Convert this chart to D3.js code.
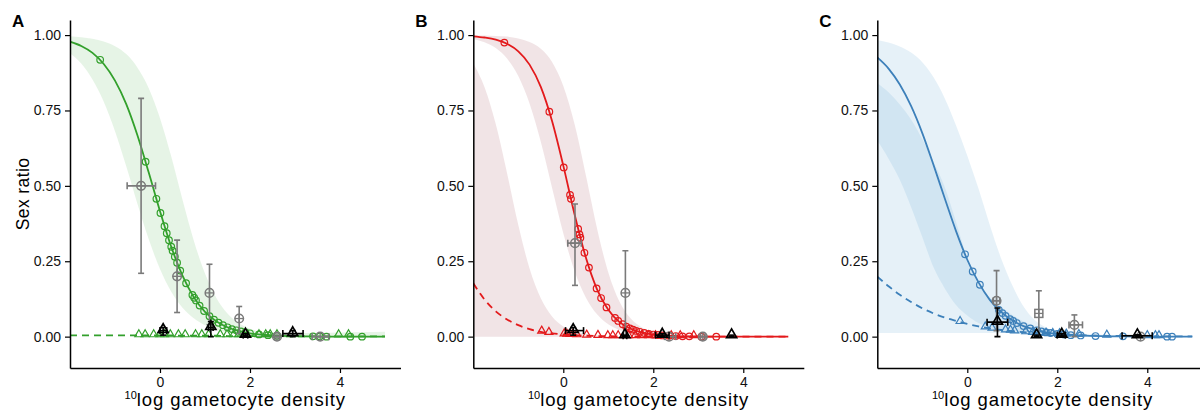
<!DOCTYPE html>
<html>
<head>
<meta charset="utf-8">
<script src="https://cdn.jsdelivr.net/npm/d3@7"></script>
<style>
  body { margin: 0; background: #fff; }
  svg text { font-family: "Liberation Sans", Arial, sans-serif; }
</style>
</head>
<body>
<svg id="chart" width="1200" height="412"></svg>
<script>
const xGrid = [-2, -1.75, -1.5, -1.25, -1, -0.75, -0.5, -0.25, 0, 0.25, 0.5, 0.75, 1, 1.25, 1.5, 1.75, 2, 2.5, 3, 3.5, 4, 4.5, 5];
const xTicks = [0, 2, 4];
const yTicks = [0, 0.25, 0.5, 0.75, 1];

// ---- panel A
const aFit   = [0.978, 0.964, 0.941, 0.904, 0.849, 0.771, 0.667, 0.544, 0.416, 0.298, 0.202, 0.131, 0.082, 0.051, 0.031, 0.019, 0.011, 0.004, 0.0014, 0.0005, 0.0002, 0.0001, 0];
const aFitLo = [0.940, 0.906, 0.853, 0.779, 0.681, 0.565, 0.440, 0.323, 0.224, 0.149, 0.096, 0.061, 0.038, 0.023, 0.014, 0.006, 0.002, -0.003, -0.004, -0.004, -0.004, -0.004, -0.004];
const aFitHi = [0.996, 0.993, 0.988, 0.979, 0.963, 0.937, 0.892, 0.824, 0.724, 0.597, 0.454, 0.319, 0.209, 0.129, 0.077, 0.045, 0.026, 0.012, 0.012, 0.013, 0.014, 0.015, 0.016];
const aNull  = [0.004, 0.004, 0.004, 0.004, 0.004, 0.004, 0.004, 0.004, 0.004, 0.004, 0.003, 0.003, 0.003, 0.003, 0.002, 0.002, 0.002, 0.002, 0.001, 0.001, 0.001, 0.001, 0.001];
const aCircles = [[-1.33, 0.918], [-0.32, 0.58], [-0.08, 0.457], [0.01, 0.41], [0.1, 0.366], [0.15, 0.343], [0.2, 0.32], [0.25, 0.298], [0.28, 0.285], [0.33, 0.265], [0.38, 0.245], [0.45, 0.219], [0.58, 0.177], [0.72, 0.138], [0.76, 0.129], [0.8, 0.12], [0.88, 0.103], [0.98, 0.085], [1.1, 0.068], [1.2, 0.056], [1.3, 0.046], [1.4, 0.038], [1.5, 0.031], [1.6, 0.025], [1.7, 0.021], [1.8, 0.017], [1.9, 0.014], [2.0, 0.011], [2.2, 0.0075], [2.4, 0.005], [2.6, 0.003], [3.4, 0.001], [3.55, 0.001], [3.7, 0], [4.23, 0], [4.49, 0]];
const aTriangles = [[-0.47, 0.004], [-0.33, 0.004], [-0.14, 0.004], [0.0, 0.004], [0.1, 0.004], [0.23, 0.004], [0.41, 0.004], [0.56, 0.004], [0.79, 0.004], [0.93, 0.004], [1.08, 0.004], [1.34, 0.004], [1.49, 0.004], [1.64, 0.004], [1.75, 0.004], [2.2, 0.004], [2.35, 0.004], [2.45, 0.004], [2.6, 0.004], [3.97, 0.004], [4.19, 0.004]];
// [x, y, xlo, xhi, ylo, yhi, shape]
const aGrey = [[-0.42, 0.5, -0.73, -0.1, 0.21, 0.79, 'c'], [0.38, 0.2, 0.38, 0.38, 0.08, 0.32, 'c'], [1.1, 0.145, 1.1, 1.1, 0.04, 0.24, 'c'], [1.76, 0.06, 1.76, 1.76, 0.01, 0.10, 'c'], [2.6, 0, 2.55, 2.65, 0, 0, 'c'], [3.56, 0, 3.38, 3.75, 0, 0, 'c']];
const aBlack = [[0.07, 0.02, 0.0, 0.15, 0.005, 0.03], [1.13, 0.03, 1.08, 1.18, 0, 0.05], [1.9, 0.005, 1.85, 1.95, 0, 0.01], [2.95, 0.01, 2.73, 3.18, 0, 0.02]];

// ---- panel B
const bFit   = [0.996, 0.992, 0.985, 0.971, 0.946, 0.902, 0.828, 0.715, 0.567, 0.406, 0.263, 0.157, 0.089, 0.048, 0.026, 0.014, 0.007, 0.002, 0.0005, 0, 0, 0, 0];
const bFitLo = [0.987, 0.976, 0.957, 0.922, 0.864, 0.773, 0.646, 0.494, 0.343, 0.218, 0.130, 0.074, 0.041, 0.022, 0.012, 0.0065, 0.003, 0.001, 0, 0, 0, 0, 0];
const bFitHi = [0.999, 0.999, 0.997, 0.995, 0.989, 0.977, 0.955, 0.911, 0.831, 0.705, 0.536, 0.359, 0.213, 0.116, 0.060, 0.030, 0.015, 0.0035, 0.001, 0, 0, 0, 0];
const bNull   = [0.177, 0.123, 0.084, 0.057, 0.038, 0.025, 0.016, 0.011, 0.007, 0.0047, 0.003, 0.002, 0.0013, 0.001, 0.001, 0.001, 0.001, 0.0005, 0, 0, 0, 0, 0];
const bNullLo = [0, 0, 0, 0, 0, 0, 0, 0, 0, 0, 0, 0, 0, 0, 0, 0, 0, 0, 0, 0, 0, 0, 0];
const bNullHi = [0.906, 0.827, 0.704, 0.542, 0.370, 0.226, 0.127, 0.067, 0.034, 0.017, 0.0088, 0.0044, 0.002, 0.001, 0.001, 0.001, 0.001, 0.001, 0.001, 0.001, 0.001, 0.001, 0.001];
const bCircles = [[-1.31, 0.975], [-0.31, 0.746], [0.01, 0.561], [0.15, 0.47], [0.17, 0.457], [0.33, 0.357], [0.36, 0.339], [0.38, 0.328], [0.47, 0.278], [0.57, 0.229], [0.74, 0.16], [0.84, 0.128], [0.96, 0.097], [1.15, 0.062], [1.22, 0.052], [1.32, 0.041], [1.4, 0.033], [1.48, 0.027], [1.55, 0.023], [1.62, 0.019], [1.7, 0.016], [1.8, 0.012], [1.9, 0.009], [2.0, 0.007], [2.1, 0.0055], [2.2, 0.004], [2.35, 0.003], [2.5, 0.002], [2.65, 0.001], [2.8, 0.001], [3.07, 0], [3.4, 0]];
const bTriangles = [[-0.48, 0.016], [-0.32, 0.012], [0.02, 0.007], [0.08, 0.006], [0.15, 0.005], [0.21, 0.005], [0.3, 0.004], [0.52, 0.003], [0.77, 0.002], [0.99, 0.001], [1.1, 0.001], [1.22, 0.001], [1.45, 0.001], [1.6, 0.001], [1.75, 0.001], [1.9, 0.001], [2.05, 0.001], [2.4, 0.001], [2.6, 0.001], [2.9, 0.001]];
const bGrey = [[0.26, 0.31, 0.1, 0.4, 0.17, 0.44, 'c'], [1.38, 0.145, 1.38, 1.38, 0, 0.285, 'c'], [2.35, 0, 2.25, 2.5, 0, 0, 'c'], [3.1, 0, 3.05, 3.15, 0, 0, 'c']];
const bBlack = [[0.22, 0.02, 0.05, 0.45, 0.005, 0.03], [1.37, 0.003, 1.33, 1.41, 0, 0.005], [2.2, 0.005, 2.05, 2.35, 0, 0.01], [3.74, 0.003, 3.74, 3.74, 0, 0.005]];

// ---- panel C
const cFit   = [0.926, 0.889, 0.836, 0.765, 0.675, 0.569, 0.458, 0.350, 0.255, 0.180, 0.122, 0.082, 0.054, 0.035, 0.023, 0.014, 0.009, 0.004, 0.0015, 0.0006, 0.0002, 0.0001, 0];
const cFitLo = [0.65, 0.59, 0.52, 0.43, 0.33, 0.23, 0.16, 0.105, 0.07, 0.045, 0.028, 0.018, 0.012, 0.008, 0.005, 0.003, 0.002, 0.001, 0.001, 0.001, 0, 0, 0];
const cFitHi = [0.984, 0.975, 0.962, 0.942, 0.91, 0.86, 0.79, 0.70, 0.60, 0.49, 0.37, 0.26, 0.17, 0.10, 0.055, 0.03, 0.016, 0.006, 0.002, 0.001, 0.001, 0.001, 0.001];
const cNull   = [0.199, 0.167, 0.139, 0.115, 0.094, 0.077, 0.063, 0.052, 0.042, 0.034, 0.027, 0.022, 0.018, 0.0145, 0.0117, 0.0094, 0.0076, 0.005, 0.0032, 0.0021, 0.0013, 0.0009, 0.0006];
const cNullLo = [0.012, 0.012, 0.012, 0.012, 0.012, 0.012, 0.012, 0.012, 0.012, 0.012, 0.012, 0.012, 0.012, 0.010, 0.008, 0.006, 0.004, 0.002, 0.001, 0.001, 0.0005, 0.0003, 0.0002];
const cNullHi = [0.84, 0.81, 0.77, 0.72, 0.655, 0.58, 0.495, 0.38, 0.26, 0.18, 0.13, 0.098, 0.072, 0.05, 0.035, 0.025, 0.018, 0.01, 0.006, 0.004, 0.003, 0.002, 0.001];
const cCircles = [[-0.05, 0.273], [0.12, 0.216], [0.28, 0.172], [0.7, 0.089], [0.78, 0.078], [0.85, 0.069], [0.95, 0.058], [1.02, 0.052], [1.1, 0.045], [1.25, 0.035], [1.4, 0.027], [1.55, 0.021], [1.65, 0.017], [1.75, 0.014], [1.85, 0.012], [2.0, 0.009], [2.15, 0.007], [2.3, 0.005], [2.52, 0.004], [2.85, 0.002], [3.46, 0.001], [4.44, 0], [4.55, 0]];
const cTriangles = [[-0.16, 0.048], [0.4, 0.03], [0.55, 0.026], [0.85, 0.02], [0.96, 0.019], [1.05, 0.017], [1.3, 0.014], [1.45, 0.012], [1.6, 0.011], [1.75, 0.0094], [1.9, 0.0082], [2.05, 0.0073], [2.2, 0.0063], [2.48, 0.005], [3.1, 0.003], [4.0, 0.0013], [4.18, 0.0012], [4.26, 0.0011]];
const cGrey = [[0.65, 0.119, 0.58, 0.72, 0.02, 0.219, 'c'], [1.59, 0.077, 1.59, 1.59, 0, 0.152, 's'], [2.38, 0.039, 2.26, 2.56, 0, 0.072, 'c'], [3.85, 0, 3.85, 3.85, 0, 0, 'c']];
const cBlack = [[0.67, 0.048, 0.44, 0.9, 0, 0.095], [1.54, 0.003, 1.54, 1.54, 0, 0.005], [2.1, 0.005, 2.0, 2.18, 0, 0.01], [3.78, 0.003, 3.44, 4.11, 0, 0.006]];

const panels = [
  { letter: 'A', left: 70, color: '#33a02c', bandFill: '#74c476', bandOpacity: 0.18,
    bands: [[aFitLo, aFitHi]], fit: aFit, nul: aNull,
    circles: aCircles, triangles: aTriangles, grey: aGrey, black: aBlack, yTitle: true },
  { letter: 'B', left: 473.3, color: '#e31a1c', bandFill: '#b5707a', bandOpacity: 0.19,
    bands: [[bNullLo, bNullHi], [bFitLo, bFitHi]], fit: bFit, nul: bNull,
    circles: bCircles, triangles: bTriangles, grey: bGrey, black: bBlack },
  { letter: 'C', left: 877.3, color: '#3d80ba', bandFill: '#6baed6', bandOpacity: 0.17,
    bands: [[cNullLo, cNullHi], [cFitLo, cFitHi]], fit: cFit, nul: cNull,
    circles: cCircles, triangles: cTriangles, grey: cGrey, black: cBlack }
];

const plotW = 330.5;
const plotTop = 20;
const plotBottom = 368;
const xDomain = [-2, 5.345];
const yDomain = [-0.104, 1.05];
const greyCol = '#7a7a7a';

const svg = d3.select('#chart');

const drawPanel = (p, idx) => {
  const x = d3.scaleLinear().domain(xDomain).range([p.left, p.left + plotW]);
  const y = d3.scaleLinear().domain(yDomain).range([plotBottom, plotTop]);
  const g = svg.append('g');
  const clipId = 'clip' + idx;

  svg.append('clipPath').attr('id', clipId)
    .append('rect')
    .attr('x', p.left).attr('y', plotTop)
    .attr('width', plotW).attr('height', plotBottom - plotTop);

  const inner = g.append('g').attr('clip-path', `url(#${clipId})`);
  const idxs = d3.range(xGrid.length);

  // ribbons
  p.bands.forEach(b => {
    const area = d3.area()
      .x(i => x(xGrid[i]))
      .y0(i => y(b[0][i]))
      .y1(i => y(b[1][i]))
      .curve(d3.curveMonotoneX);
    inner.append('path')
      .attr('d', area(idxs))
      .attr('fill', p.bandFill)
      .attr('fill-opacity', p.bandOpacity);
  });

  // fitted curves
  const line = arr => d3.line()
    .x(i => x(xGrid[i]))
    .y(i => y(arr[i]))
    .curve(d3.curveMonotoneX)(idxs);

  inner.append('path').attr('d', line(p.nul))
    .attr('fill', 'none').attr('stroke', p.color)
    .attr('stroke-width', 1.8).attr('stroke-dasharray', '7,5');
  inner.append('path').attr('d', line(p.fit))
    .attr('fill', 'none').attr('stroke', p.color).attr('stroke-width', 1.8);

  // coloured points
  inner.selectAll('.circ').data(p.circles).enter().append('circle')
    .attr('cx', d => x(d[0])).attr('cy', d => y(d[1])).attr('r', 3.3)
    .attr('fill', 'none').attr('stroke', p.color).attr('stroke-width', 1.2);

  const triSmall = d3.symbol(d3.symbolTriangle, 28);
  inner.selectAll('.tri').data(p.triangles).enter().append('path')
    .attr('d', triSmall)
    .attr('transform', d => `translate(${x(d[0])},${y(d[1]) - 1})`)
    .attr('fill', 'none').attr('stroke', p.color).attr('stroke-width', 1.2);

  // error bars helper
  const errBars = (sel, rows, col, w) => {
    rows.forEach(d => {
      const [cx, cy, xlo, xhi, ylo, yhi] = d;
      if (yhi > ylo) {
        sel.append('line').attr('x1', x(cx)).attr('x2', x(cx))
          .attr('y1', y(ylo)).attr('y2', y(yhi))
          .attr('stroke', col).attr('stroke-width', w);
        [ylo, yhi].forEach(v => sel.append('line')
          .attr('x1', x(cx) - 3).attr('x2', x(cx) + 3)
          .attr('y1', y(v)).attr('y2', y(v))
          .attr('stroke', col).attr('stroke-width', w));
      }
      if (xhi > xlo) {
        sel.append('line').attr('x1', x(xlo)).attr('x2', x(xhi))
          .attr('y1', y(cy)).attr('y2', y(cy))
          .attr('stroke', col).attr('stroke-width', w);
        [xlo, xhi].forEach(v => sel.append('line')
          .attr('x1', x(v)).attr('x2', x(v))
          .attr('y1', y(cy) - 3.5).attr('y2', y(cy) + 3.5)
          .attr('stroke', col).attr('stroke-width', w));
      }
    });
  };

  // grey observed means
  errBars(inner, p.grey, greyCol, 1.6);
  p.grey.forEach(d => {
    const cx = x(d[0]), cy = y(d[1]);
    if (d[6] === 's') {
      inner.append('rect').attr('x', cx - 4).attr('y', cy - 4)
        .attr('width', 8).attr('height', 8)
        .attr('fill', 'none').attr('stroke', greyCol).attr('stroke-width', 1.5);
    } else {
      inner.append('circle').attr('cx', cx).attr('cy', cy).attr('r', 4.3)
        .attr('fill', 'none').attr('stroke', greyCol).attr('stroke-width', 1.5);
    }
    inner.append('line').attr('x1', cx - 4.3).attr('x2', cx + 4.3).attr('y1', cy).attr('y2', cy)
      .attr('stroke', greyCol).attr('stroke-width', 1.3);
    inner.append('line').attr('x1', cx).attr('x2', cx).attr('y1', cy - 4.3).attr('y2', cy + 4.3)
      .attr('stroke', greyCol).attr('stroke-width', 1.3);
  });

  // black observed means
  errBars(inner, p.black, '#000', 1.6);
  const triBig = d3.symbol(d3.symbolTriangle, 44);
  inner.selectAll('.btri').data(p.black).enter().append('path')
    .attr('d', triBig)
    .attr('transform', d => `translate(${x(d[0])},${y(d[1]) - 1})`)
    .attr('fill', 'none').attr('stroke', '#000').attr('stroke-width', 1.7);

  // axes
  const yAxis = d3.axisLeft(y).tickValues(yTicks).tickFormat(d3.format('.2f'))
    .tickSize(5).tickSizeOuter(0).tickPadding(4);
  const xAxis = d3.axisBottom(x).tickValues(xTicks).tickFormat(d3.format('d'))
    .tickSize(5).tickSizeOuter(0).tickPadding(4);

  const ya = g.append('g').attr('transform', `translate(${p.left},0)`).call(yAxis);
  const xa = g.append('g').attr('transform', `translate(0,${plotBottom})`).call(xAxis);
  [ya, xa].forEach(a => {
    a.select('.domain').attr('stroke', '#000').attr('stroke-width', 1.5);
    a.selectAll('.tick line').attr('stroke', '#000').attr('stroke-width', 1.2);
    a.selectAll('.tick text').attr('fill', '#111').style('font-size', '14px');
  });

  // x title with superscript
  const xt = g.append('text')
    .attr('x', p.left + plotW / 2)
    .attr('y', 406)
    .attr('text-anchor', 'middle')
    .attr('fill', '#000');
  xt.append('tspan').text('10').style('font-size', '11px').attr('dy', -7);
  xt.append('tspan').text('log gametocyte density').style('font-size', '18.5px')
    .style('letter-spacing', '0.9px').attr('dy', 7);

  if (p.yTitle) {
    g.append('text')
      .attr('transform', `translate(29,${(plotTop + plotBottom) / 2}) rotate(-90)`)
      .attr('text-anchor', 'middle')
      .style('font-size', '17.5px')
      .style('letter-spacing', '0.4px')
      .attr('fill', '#000')
      .text('Sex ratio');
  }

  g.append('text')
    .attr('x', p.left - 58)
    .attr('y', 27)
    .style('font-size', '17px')
    .style('font-weight', 'bold')
    .attr('fill', '#000')
    .text(p.letter);
};

panels.forEach(drawPanel);
</script>
</body>
</html>
